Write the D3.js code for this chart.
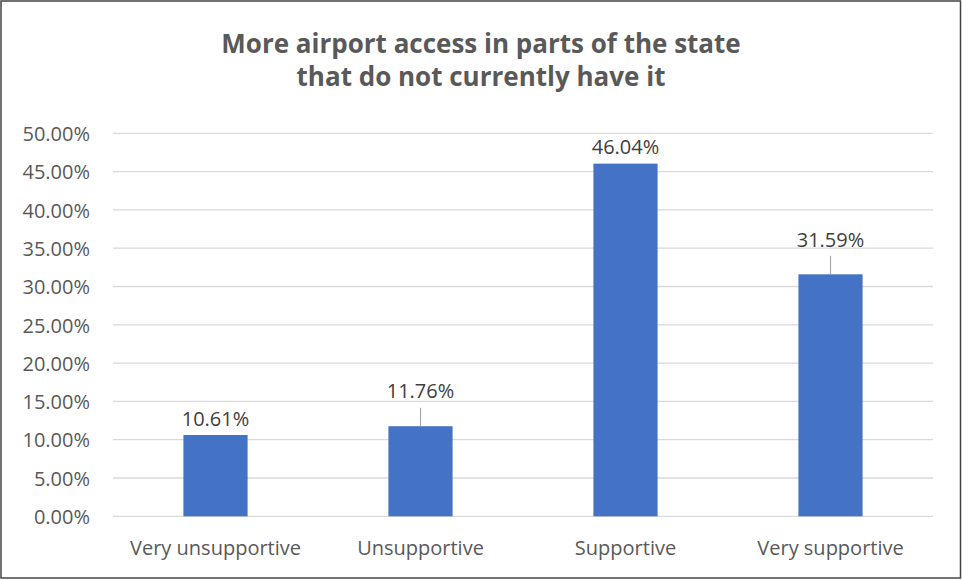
<!DOCTYPE html>
<html>
<head>
<meta charset="utf-8">
<script src="https://cdn.jsdelivr.net/npm/d3@7"></script>
<style>
  html, body { margin: 0; padding: 0; background: #fff; }
  svg { display: block; }
</style>
</head>
<body>
<svg id="chart" width="962" height="580"></svg>
<script>
const categories = ["Very unsupportive", "Unsupportive", "Supportive", "Very supportive"];
const values = [10.61, 11.76, 46.04, 31.59];
const valueLabels = ["10.61%", "11.76%", "46.04%", "31.59%"];
const leaderFlags = [false, true, false, true];
const yTicks = [0, 5, 10, 15, 20, 25, 30, 35, 40, 45, 50];
const titleLines = ["More airport access in parts of the state", "that do not currently have it"];

const W = 962, H = 580;
const FONT = "'Open Sans', Lato, sans-serif";
const svg = d3.select("#chart");

svg.append("rect").attr("x", 0).attr("y", 0).attr("width", W).attr("height", H).attr("fill", "#fff");
svg.append("rect").attr("x", 1).attr("y", 1).attr("width", W - 2.5).attr("height", H - 3)
  .attr("fill", "none").attr("stroke", "#444").attr("stroke-width", 1.5);

const x = d3.scaleBand().domain(categories).range([113, 933]).paddingInner(0.687).paddingOuter(0.3435);
const y = d3.scaleLinear().domain([0, 50]).range([516.3, 133.3]);

// title
svg.append("g").selectAll("text").data(titleLines).join("text")
  .attr("x", 481).attr("y", (d, i) => 52.5 + i * 33.5)
  .attr("text-anchor", "middle")
  .attr("font-family", FONT).attr("font-weight", "bold").attr("font-size", 26)
  .attr("fill", "#595959").text(d => d);

// gridlines
svg.append("g").attr("class", "grid").selectAll("line").data(yTicks).join("line")
  .attr("x1", 113).attr("x2", 933)
  .attr("y1", d => y(d)).attr("y2", d => y(d))
  .attr("stroke", "#d9d9d9").attr("stroke-width", 1.3);

// y axis
const yAxis = d3.axisLeft(y).tickValues(yTicks).tickSize(0).tickPadding(0)
  .tickFormat(d => d.toFixed(2) + "%");
const gy = svg.append("g").attr("transform", "translate(90,0)").call(yAxis);
gy.select(".domain").remove();
gy.selectAll("text").attr("font-family", FONT).attr("font-size", 20).attr("fill", "#595959")
  .attr("dy", "0.36em");

// x axis
const xAxis = d3.axisBottom(x).tickSize(0).tickPadding(0);
const gx = svg.append("g").attr("transform", "translate(0,548)").call(xAxis);
gx.select(".domain").remove();
gx.selectAll("text").attr("font-family", FONT).attr("font-size", 20).attr("fill", "#595959")
  .attr("dy", "0.36em");

// bars
svg.append("g").selectAll("rect").data(values).join("rect")
  .attr("x", (d, i) => x(categories[i]))
  .attr("width", x.bandwidth())
  .attr("y", d => y(d))
  .attr("height", d => y(0) - y(d))
  .attr("fill", "#4472C4");

// leader lines
svg.append("g").selectAll("line").data(values.map((v, i) => ({v, i})).filter(d => leaderFlags[d.i])).join("line")
  .attr("x1", d => x(categories[d.i]) + x.bandwidth() / 2)
  .attr("x2", d => x(categories[d.i]) + x.bandwidth() / 2)
  .attr("y1", d => y(d.v) - 18.5)
  .attr("y2", d => y(d.v))
  .attr("stroke", "#a6a6a6").attr("stroke-width", 1.2);

// data labels
svg.append("g").selectAll("text").data(values).join("text")
  .attr("x", (d, i) => x(categories[i]) + x.bandwidth() / 2)
  .attr("y", (d, i) => y(d) - (leaderFlags[i] ? 35 : 16.5))
  .attr("dy", "0.36em")
  .attr("text-anchor", "middle")
  .attr("font-family", FONT).attr("font-size", 20).attr("fill", "#404040")
  .text((d, i) => valueLabels[i]);
</script>
</body>
</html>
